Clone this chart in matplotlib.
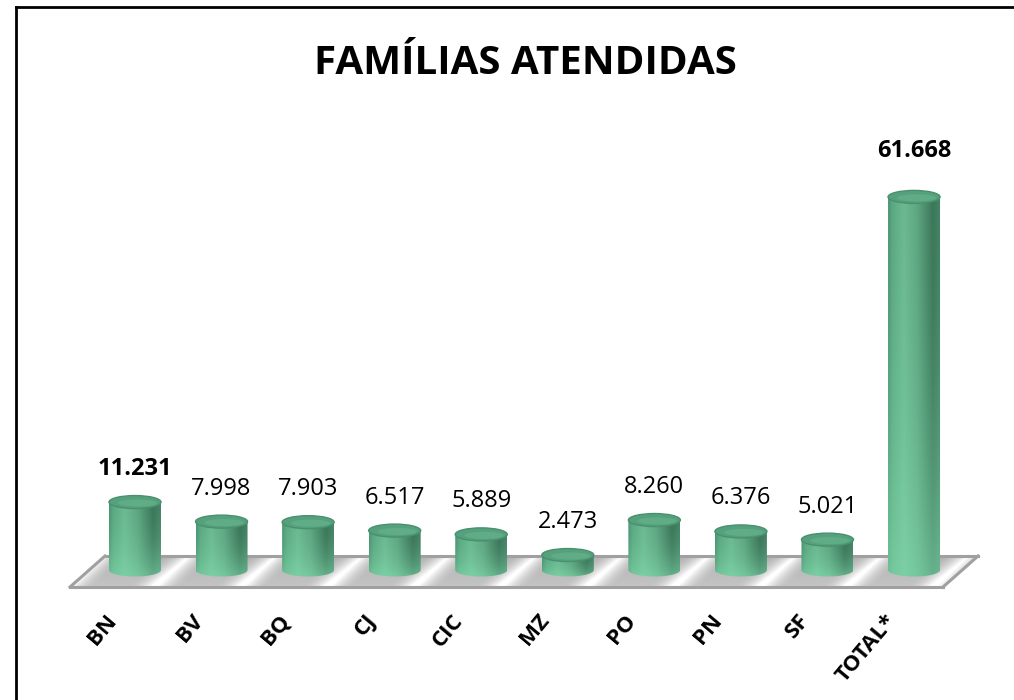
import numpy as np
import matplotlib.pyplot as plt
from matplotlib.patches import Polygon, Ellipse
from matplotlib.lines import Line2D
from matplotlib.colors import to_rgb

categorias = ["BN", "BV", "BQ", "CJ", "CIC", "MZ", "PO", "PN", "SF", "TOTAL*"]
familias = [11231, 7998, 7903, 6517, 5889, 2473, 8260, 6376, 5021, 61668]
destaque = ["BN", "TOTAL*"]  # rotulos em negrito

plt.rcParams["font.family"] = ["Open Sans", "DejaVu Sans"]

fig = plt.figure(figsize=(10.14, 7.0), dpi=100)
ax = fig.add_axes([0, 0, 1, 1])
ax.axis("off")

# escala: ~86.6 px por categoria, ~6.05 px por mil familias
px_cat = 86.56
px_val = 0.00605
x0 = -135 / px_cat
y0 = -130 / px_val
ax.set_xlim(x0, x0 + 1014 / px_cat)
ax.set_ylim(y0, y0 + 700 / px_val)
py = 1 / px_val          # um pixel em unidades de y
px = 1 / px_cat          # um pixel em unidades de x

n = len(categorias)
w = 26 * px              # meia largura do cilindro
eh = 6.5 * py            # meia altura da elipse

# piso em perspectiva
fundo = 14 * py
frente = -17 * py
incl = 35 * px
xl, xr = -30 * px, (n - 1) + 64 * px
piso = [(xl, fundo), (xr, fundo), (xr - incl, frente), (xl - incl, frente)]

gx = np.linspace(xl - incl, xr, 900)
gy = np.linspace(frente, fundo, 40)
GX, GY = np.meshgrid(gx, gy)
d = (GY - frente) / (fundo - frente)
xe = GX + incl * (1 - d) - 0.12
fase = np.abs(xe - np.round(xe))
claro = np.clip((fase - 0.2) / 0.3, 0, 1) ** 1.8
tom = 0.70 + 0.30 * claro
tom = np.clip(tom + 0.07 * (1 - d), 0, 1)
img_piso = np.dstack([tom, tom, tom])
poly_piso = Polygon(piso, closed=True, facecolor="none", edgecolor="none")
ax.add_patch(poly_piso)
im = ax.imshow(img_piso, extent=[gx[0], gx[-1], gy[0], gy[-1]], origin="lower",
               aspect="auto", interpolation="bilinear", zorder=1)
im.set_clip_path(poly_piso)
for (a, b) in zip(piso, piso[1:] + piso[:1]):
    ax.add_line(Line2D([a[0], b[0]], [a[1], b[1]], color="#a0a0a0", lw=2.2, zorder=2))

# gradiente horizontal do corpo do cilindro
paradas = [0.0, 0.08, 0.3, 0.55, 0.85, 1.0]
cores = [to_rgb(c) for c in ["#4f9a75", "#5fb088", "#70c197", "#62ad87", "#3e7c5e", "#4a8a6b"]]
u = np.linspace(0, 1, 120)
perfil = np.stack([np.interp(u, paradas, [c[k] for c in cores]) for k in range(3)], axis=1)
menta = np.array(to_rgb("#86dcb0"))

for i, v in enumerate(familias):
    x = i
    t = np.linspace(0, 1, 150)[:, None, None]   # 0 embaixo, 1 no topo
    mistura = 0.55 * (1 - t) ** 2
    corpo = perfil[None, :, :] * (1 - mistura) + menta[None, None, :] * mistura
    corpo = corpo * (0.96 + 0.04 * (1 - t))
    ang = np.linspace(np.pi, 2 * np.pi, 40)
    contorno = [(x - w, v)] + [(x + w * np.cos(a), eh * np.sin(a)) for a in ang] + [(x + w, v)]
    forma = Polygon(contorno, closed=True, facecolor="none", edgecolor="none")
    ax.add_patch(forma)
    imc = ax.imshow(np.clip(corpo, 0, 1), extent=[x - w, x + w, -eh, v], origin="lower",
                    aspect="auto", interpolation="bilinear", zorder=3)
    imc.set_clip_path(forma)
    ax.add_patch(Ellipse((x, v), 2 * w, 2 * eh, facecolor="#56a17d",
                         edgecolor="#4a8f6e", lw=1.0, zorder=4))
    ax.add_patch(Ellipse((x + 0.1 * w, v - 0.15 * eh), 1.5 * w, 1.1 * eh,
                         facecolor="#63b28b", edgecolor="none", zorder=4, alpha=0.7))

    rotulo = f"{v:,}".replace(",", ".")
    extra = 13 if i == n - 1 else 0
    ax.text(x, v + (33 + extra) * py, rotulo, ha="center", va="center", fontsize=17,
            fontweight="bold" if categorias[i] in destaque else "normal",
            color="black", zorder=5)
    ax.text(x - 22 * px, -47 * py, categorias[i], rotation=50, rotation_mode="anchor",
            ha="right", va="center", fontsize=16, fontweight="bold", color="black")

fig.text(0.518, 1 - 74 / 700, "FAMÍLIAS ATENDIDAS", ha="center", va="baseline",
         fontsize=29, fontweight="bold", color="black")

# moldura (apenas topo e esquerda aparecem)
fig.add_artist(Line2D([16 / 1014, 1], [1 - 7 / 700, 1 - 7 / 700], transform=fig.transFigure,
                      color="black", lw=2))
fig.add_artist(Line2D([16 / 1014, 16 / 1014], [0, 1 - 7 / 700], transform=fig.transFigure,
                      color="black", lw=2))

fig.savefig("out.png", dpi=100)
